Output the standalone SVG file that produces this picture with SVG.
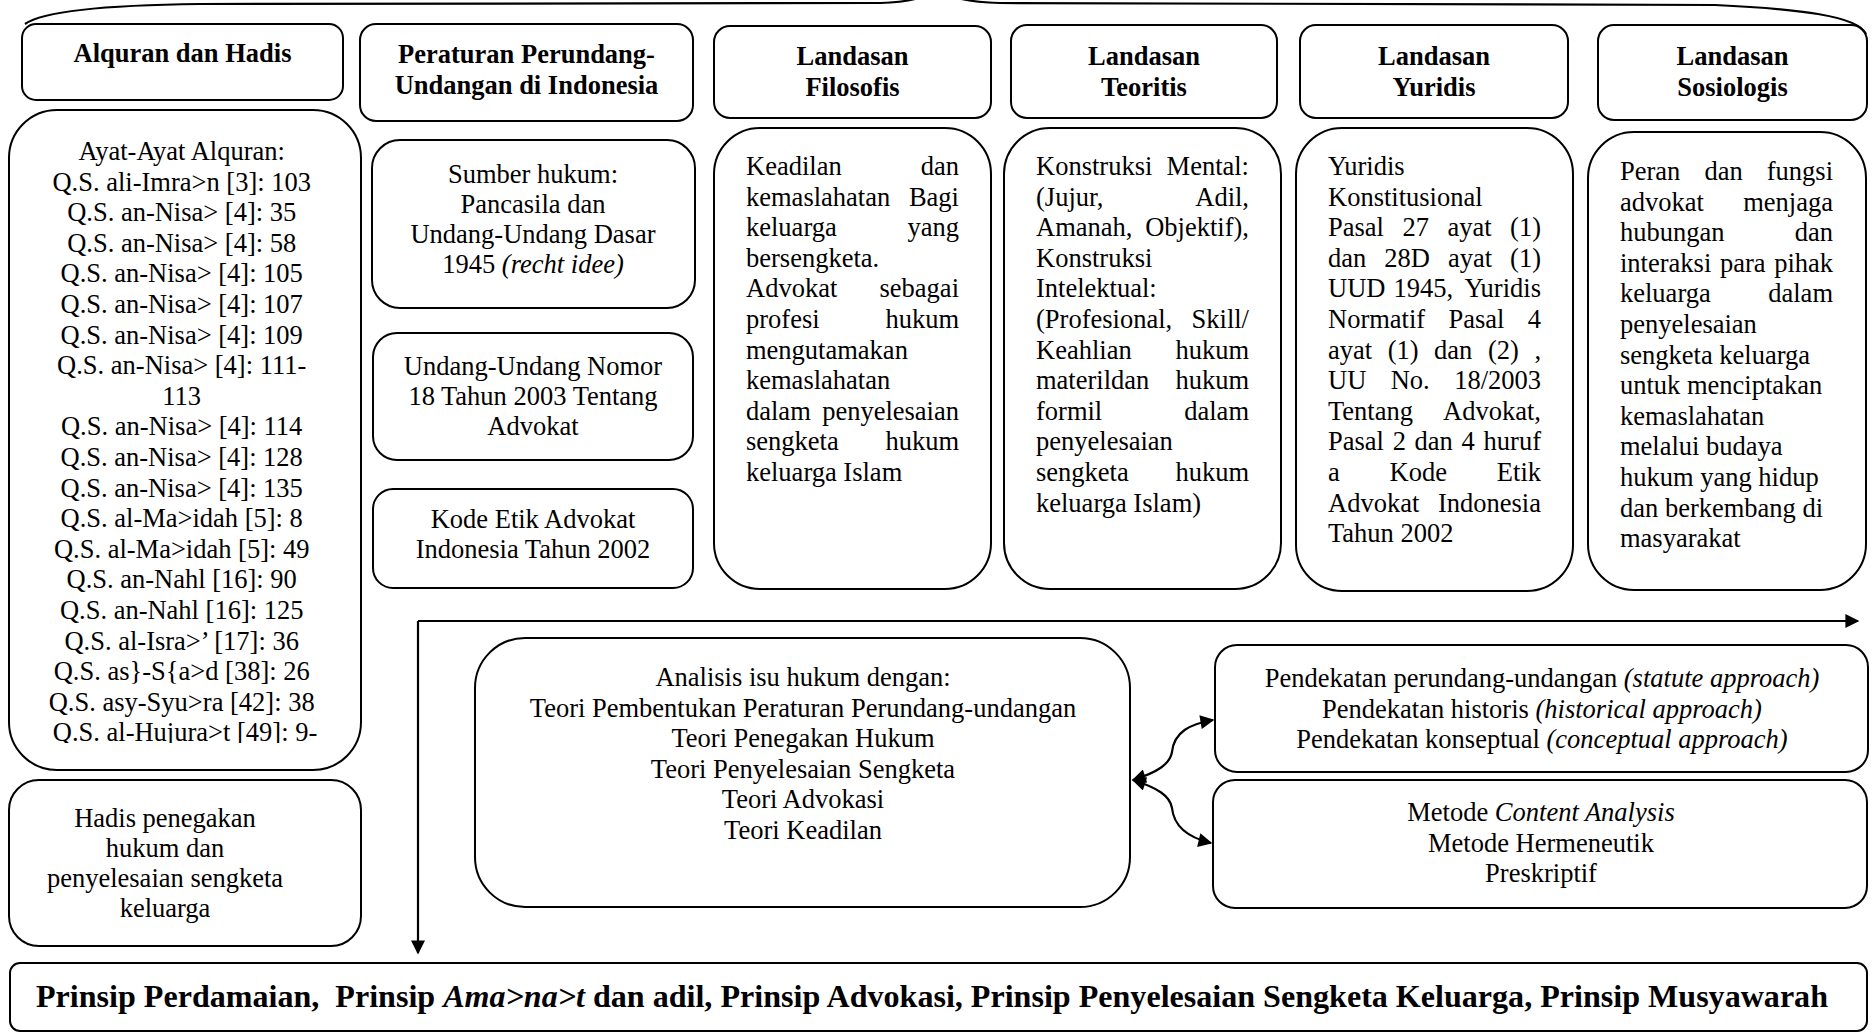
<svg xmlns="http://www.w3.org/2000/svg" width="1873" height="1033" viewBox="0 0 1873 1033">
<style>
.box{fill:#fff;stroke:#000;stroke-width:2}
.ln{fill:none;stroke:#000;stroke-width:2.2}
text{font-family:"Liberation Serif","Times New Roman",serif;font-size:26.5px;fill:#000}
.h{font-weight:bold;text-anchor:middle}
.c{text-anchor:middle}
.i{font-style:italic}
</style>
<defs>
<marker id="ah" viewBox="0 0 10 10" refX="9" refY="5" markerWidth="16" markerHeight="14" markerUnits="userSpaceOnUse" orient="auto-start-reverse"><path d="M0 0 L10 5 L0 10 z" fill="#000"/></marker>
<clipPath id="clipAyat"><rect x="10" y="100" width="352" height="643"/></clipPath>
</defs>
<rect width="1873" height="1033" fill="#fff"/>

<g id="connectors">
<path class="ln" d="M25 24 C45 10 110 5 200 4 L880 3 C915 2 930 -4 937 -14"/>
<path class="ln" d="M937 -14 C945 -4 962 2 1000 3 L1715 5 C1800 9 1858 16 1866 34"/>
<path class="ln" d="M418 621 L1858 621" marker-end="url(#ah)"/>
<path class="ln" d="M418 621 L418 953" marker-end="url(#ah)"/>
<path class="ln" d="M1133 780 C1158 772 1170 764 1172 752 C1174 732 1190 724 1213 720" marker-start="url(#ah)" marker-end="url(#ah)"/>
<path class="ln" d="M1133 780 C1158 788 1170 796 1172 808 C1174 828 1190 838 1211 843" marker-start="url(#ah)" marker-end="url(#ah)"/>
</g>

<g id="h-alquran"><rect class="box" x="22" y="24" width="321" height="76" rx="14"/>
<text class="h" x="182.5" y="62">Alquran dan Hadis</text></g>

<g id="h-peraturan"><rect class="box" x="360" y="24" width="333" height="97" rx="16"/>
<text class="h" x="526.5" y="63">Peraturan Perundang-</text>
<text class="h" x="526.5" y="94">Undangan di Indonesia</text></g>

<g id="h-filosofis"><rect class="box" x="714" y="26" width="277" height="92" rx="16"/>
<text class="h" x="852.5" y="65">Landasan</text>
<text class="h" x="852.5" y="96">Filosofis</text></g>

<g id="h-teoritis"><rect class="box" x="1011" y="25" width="266" height="93" rx="16"/>
<text class="h" x="1144" y="65">Landasan</text>
<text class="h" x="1144" y="96">Teoritis</text></g>

<g id="h-yuridis"><rect class="box" x="1300" y="25" width="268" height="93" rx="16"/>
<text class="h" x="1434" y="65">Landasan</text>
<text class="h" x="1434" y="96">Yuridis</text></g>

<g id="h-sosiologis"><rect class="box" x="1598" y="25" width="269" height="95" rx="16"/>
<text class="h" x="1732.5" y="65">Landasan</text>
<text class="h" x="1732.5" y="96">Sosiologis</text></g>

<g id="ayat"><rect class="box" x="9" y="110" width="352" height="660" rx="48"/>
<text class="c" clip-path="url(#clipAyat)">
<tspan x="185" y="160">Ayat-Ayat Alquran:</tspan>
<tspan x="185" dy="30.6">Q.S. ali-Imra&gt;n [3]: 103</tspan>
<tspan x="185" dy="30.6">Q.S. an-Nisa&gt; [4]: 35</tspan>
<tspan x="185" dy="30.6">Q.S. an-Nisa&gt; [4]: 58</tspan>
<tspan x="185" dy="30.6">Q.S. an-Nisa&gt; [4]: 105</tspan>
<tspan x="185" dy="30.6">Q.S. an-Nisa&gt; [4]: 107</tspan>
<tspan x="185" dy="30.6">Q.S. an-Nisa&gt; [4]: 109</tspan>
<tspan x="185" dy="30.6">Q.S. an-Nisa&gt; [4]: 111-</tspan>
<tspan x="185" dy="30.6">113</tspan>
<tspan x="185" dy="30.6">Q.S. an-Nisa&gt; [4]: 114</tspan>
<tspan x="185" dy="30.6">Q.S. an-Nisa&gt; [4]: 128</tspan>
<tspan x="185" dy="30.6">Q.S. an-Nisa&gt; [4]: 135</tspan>
<tspan x="185" dy="30.6">Q.S. al-Ma&gt;idah [5]: 8</tspan>
<tspan x="185" dy="30.6">Q.S. al-Ma&gt;idah [5]: 49</tspan>
<tspan x="185" dy="30.6">Q.S. an-Nahl [16]: 90</tspan>
<tspan x="185" dy="30.6">Q.S. an-Nahl [16]: 125</tspan>
<tspan x="185" dy="30.6">Q.S. al-Isra&gt;’ [17]: 36</tspan>
<tspan x="185" dy="30.6">Q.S. as}-S{a&gt;d [38]: 26</tspan>
<tspan x="185" dy="30.6">Q.S. asy-Syu&gt;ra [42]: 38</tspan>
<tspan x="185" dy="30.6">Q.S. al-Hujura&gt;t [49]: 9-</tspan>
</text></g>

<g id="hadis"><rect class="box" x="9" y="780" width="352" height="166" rx="30"/>
<text class="c"><tspan x="165" y="827">Hadis penegakan</tspan><tspan x="165" dy="30">hukum dan</tspan><tspan x="165" dy="30">penyelesaian sengketa</tspan><tspan x="165" dy="30">keluarga</tspan></text></g>

<g id="sumber"><rect class="box" x="372" y="140" width="323" height="168" rx="28"/>
<text class="c"><tspan x="533" y="183">Sumber hukum:</tspan><tspan x="533" dy="30">Pancasila dan</tspan><tspan x="533" dy="30">Undang-Undang Dasar</tspan><tspan x="533" dy="30">1945 <tspan class="i">(recht idee)</tspan></tspan></text></g>

<g id="uu"><rect class="box" x="373" y="333" width="320" height="127" rx="24"/>
<text class="c"><tspan x="533" y="375">Undang-Undang Nomor</tspan><tspan x="533" dy="30">18 Tahun 2003 Tentang</tspan><tspan x="533" dy="30">Advokat</tspan></text></g>

<g id="kode"><rect class="box" x="373" y="489" width="320" height="99" rx="20"/>
<text class="c"><tspan x="533" y="528">Kode Etik Advokat</tspan><tspan x="533" dy="30">Indonesia Tahun 2002</tspan></text></g>

<g id="filosofis"><rect class="box" x="714" y="128" width="277" height="461" rx="46"/>
<text y="175"><tspan x="746">Keadilan</tspan><tspan x="959" text-anchor="end">dan</tspan></text>
<text y="205.6"><tspan x="746">kemaslahatan</tspan><tspan x="959" text-anchor="end">Bagi</tspan></text>
<text y="236.2"><tspan x="746">keluarga</tspan><tspan x="959" text-anchor="end">yang</tspan></text>
<text x="746" y="266.8">bersengketa.</text>
<text y="297.4"><tspan x="746">Advokat</tspan><tspan x="959" text-anchor="end">sebagai</tspan></text>
<text y="328"><tspan x="746">profesi</tspan><tspan x="959" text-anchor="end">hukum</tspan></text>
<text x="746" y="358.6">mengutamakan</text>
<text x="746" y="389.2">kemaslahatan</text>
<text y="419.8"><tspan x="746">dalam</tspan><tspan x="959" text-anchor="end">penyelesaian</tspan></text>
<text y="450.4"><tspan x="746">sengketa</tspan><tspan x="959" text-anchor="end">hukum</tspan></text>
<text x="746" y="481">keluarga Islam</text></g>

<g id="teoritis"><rect class="box" x="1004" y="128" width="277" height="461" rx="46"/>
<text y="175"><tspan x="1036">Konstruksi</tspan><tspan x="1249" text-anchor="end">Mental:</tspan></text>
<text y="205.6"><tspan x="1036">(Jujur,</tspan><tspan x="1249" text-anchor="end">Adil,</tspan></text>
<text y="236.2"><tspan x="1036">Amanah,</tspan><tspan x="1249" text-anchor="end">Objektif),</tspan></text>
<text x="1036" y="266.8">Konstruksi</text>
<text x="1036" y="297.4">Intelektual:</text>
<text y="328"><tspan x="1036">(Profesional,</tspan><tspan x="1249" text-anchor="end">Skill/</tspan></text>
<text y="358.6"><tspan x="1036">Keahlian</tspan><tspan x="1249" text-anchor="end">hukum</tspan></text>
<text y="389.2"><tspan x="1036">materildan</tspan><tspan x="1249" text-anchor="end">hukum</tspan></text>
<text y="419.8"><tspan x="1036">formil</tspan><tspan x="1249" text-anchor="end">dalam</tspan></text>
<text x="1036" y="450.4">penyelesaian</text>
<text y="481"><tspan x="1036">sengketa</tspan><tspan x="1249" text-anchor="end">hukum</tspan></text>
<text x="1036" y="511.6">keluarga Islam)</text></g>

<g id="yuridis"><rect class="box" x="1296" y="128" width="277" height="463" rx="46"/>
<text x="1328" y="175">Yuridis</text>
<text x="1328" y="205.6">Konstitusional</text>
<text y="236.2"><tspan x="1328">Pasal</tspan><tspan x="1402.4">27</tspan><tspan x="1447.4">ayat</tspan><tspan x="1541" text-anchor="end">(1)</tspan></text>
<text y="266.8"><tspan x="1328">dan</tspan><tspan x="1384.3">28D</tspan><tspan x="1447.9">ayat</tspan><tspan x="1541" text-anchor="end">(1)</tspan></text>
<text y="297.4"><tspan x="1328">UUD</tspan><tspan x="1393.6">1945,</tspan><tspan x="1541" text-anchor="end">Yuridis</tspan></text>
<text y="328"><tspan x="1328">Normatif</tspan><tspan x="1448.4">Pasal</tspan><tspan x="1541" text-anchor="end">4</tspan></text>
<text y="358.6"><tspan x="1328">ayat</tspan><tspan x="1387.7">(1)</tspan><tspan x="1434.1">dan</tspan><tspan x="1488">(2)</tspan><tspan x="1541" text-anchor="end">,</tspan></text>
<text y="389.2"><tspan x="1328">UU</tspan><tspan x="1390.7">No.</tspan><tspan x="1541" text-anchor="end">18/2003</tspan></text>
<text y="419.8"><tspan x="1328">Tentang</tspan><tspan x="1541" text-anchor="end">Advokat,</tspan></text>
<text y="450.4"><tspan x="1328">Pasal</tspan><tspan x="1392.7">2</tspan><tspan x="1414.6">dan</tspan><tspan x="1461.6">4</tspan><tspan x="1541" text-anchor="end">huruf</tspan></text>
<text y="481"><tspan x="1328">a</tspan><tspan x="1389.6">Kode</tspan><tspan x="1541" text-anchor="end">Etik</tspan></text>
<text y="511.6"><tspan x="1328">Advokat</tspan><tspan x="1541" text-anchor="end">Indonesia</tspan></text>
<text x="1328" y="542.2">Tahun 2002</text></g>

<g id="sosiologis"><rect class="box" x="1588" y="132" width="278" height="458" rx="46"/>
<text y="180"><tspan x="1620">Peran</tspan><tspan x="1704.4">dan</tspan><tspan x="1833" text-anchor="end">fungsi</tspan></text>
<text y="210.6"><tspan x="1620">advokat</tspan><tspan x="1833" text-anchor="end">menjaga</tspan></text>
<text y="241.2"><tspan x="1620">hubungan</tspan><tspan x="1833" text-anchor="end">dan</tspan></text>
<text y="271.8"><tspan x="1620">interaksi</tspan><tspan x="1719.9">para</tspan><tspan x="1833" text-anchor="end">pihak</tspan></text>
<text y="302.4"><tspan x="1620">keluarga</tspan><tspan x="1833" text-anchor="end">dalam</tspan></text>
<text x="1620" y="333">penyelesaian</text>
<text x="1620" y="363.6">sengketa keluarga</text>
<text x="1620" y="394.2">untuk menciptakan</text>
<text x="1620" y="424.8">kemaslahatan</text>
<text x="1620" y="455.4">melalui budaya</text>
<text x="1620" y="486">hukum yang hidup</text>
<text x="1620" y="516.6">dan berkembang di</text>
<text x="1620" y="547.2">masyarakat</text></g>

<g id="analisis"><rect class="box" x="475" y="638" width="655" height="269" rx="50"/>
<text class="c"><tspan x="803" y="686">Analisis isu hukum dengan:</tspan><tspan x="803" dy="30.6">Teori Pembentukan Peraturan Perundang-undangan</tspan><tspan x="803" dy="30.6">Teori Penegakan Hukum</tspan><tspan x="803" dy="30.6">Teori Penyelesaian Sengketa</tspan><tspan x="803" dy="30.6">Teori Advokasi</tspan><tspan x="803" dy="30.6">Teori Keadilan</tspan></text></g>

<g id="pendekatan"><rect class="box" x="1215" y="645" width="653" height="127" rx="22"/>
<text class="c"><tspan x="1542" y="687">Pendekatan perundang-undangan <tspan class="i">(statute approach)</tspan></tspan><tspan x="1542" dy="30.5">Pendekatan historis <tspan class="i">(historical approach)</tspan></tspan><tspan x="1542" dy="30.5">Pendekatan konseptual <tspan class="i">(conceptual approach)</tspan></tspan></text></g>

<g id="metode"><rect class="box" x="1213" y="780" width="654" height="128" rx="22"/>
<text class="c"><tspan x="1541" y="821">Metode <tspan class="i">Content Analysis</tspan></tspan><tspan x="1541" dy="30.5">Metode Hermeneutik</tspan><tspan x="1541" dy="30.5">Preskriptif</tspan></text></g>

<g id="prinsip"><rect class="box" x="10" y="963" width="1857" height="68" rx="10"/>
<text class="h" x="932" y="1007" style="font-size:32px" textLength="1792" lengthAdjust="spacingAndGlyphs">Prinsip Perdamaian,&#160; Prinsip <tspan class="i">Ama&gt;na&gt;t</tspan> dan adil, Prinsip Advokasi, Prinsip Penyelesaian Sengketa Keluarga, Prinsip Musyawarah</text></g>
</svg>
